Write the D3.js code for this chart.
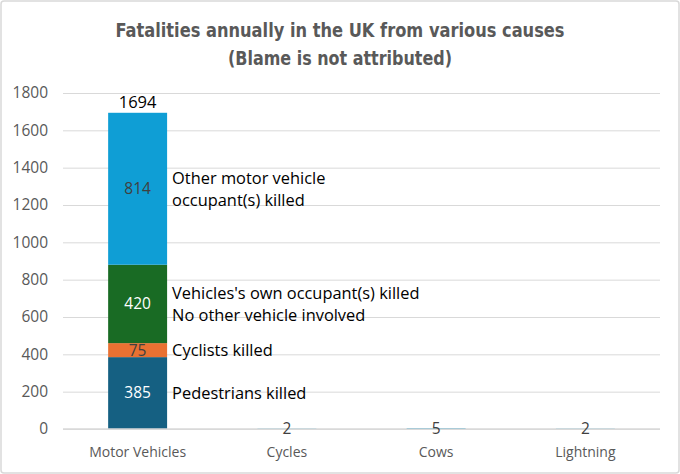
<!DOCTYPE html>
<html>
<head>
<meta charset="utf-8">
<script src="https://cdn.jsdelivr.net/npm/d3@7"></script>
<style>
  body { margin: 0; background: #fff; }
  svg { display: block; }
</style>
</head>
<body>
<div id="chart"></div>
<script>
// Data
const categories = ['Motor Vehicles', 'Cycles', 'Cows', 'Lightning'];
const pedestrians = [385, 0, 0, 0];
const cyclists = [75, 0, 0, 0];
const ownOccupants = [420, 0, 0, 0];
const otherOccupants = [814, 0, 0, 0];
const otherCauses = [0, 2, 5, 2];
const yTicks = [0, 200, 400, 600, 800, 1000, 1200, 1400, 1600, 1800];
const titleLines = ['Fatalities annually in the UK from various causes', '(Blame is not attributed)'];

const seriesKeys = ['pedestrians', 'cyclists', 'ownOccupants', 'otherOccupants', 'otherCauses'];
const seriesColors = {
  pedestrians: '#156082',
  cyclists: '#e97132',
  ownOccupants: '#196b24',
  otherOccupants: '#0f9ed5',
  otherCauses: '#0f9ed5'
};
const labelColors = {
  pedestrians: '#ffffff',
  cyclists: '#404040',
  ownOccupants: '#ffffff',
  otherOccupants: '#404040',
  otherCauses: '#404040'
};
const annotations = {
  pedestrians: ['Pedestrians killed'],
  cyclists: ['Cyclists killed'],
  ownOccupants: ["Vehicles's own occupant(s) killed", 'No other vehicle involved'],
  otherOccupants: ['Other motor vehicle', 'occupant(s) killed']
};

const table = categories.map((c, i) => ({
  category: c,
  pedestrians: pedestrians[i],
  cyclists: cyclists[i],
  ownOccupants: ownOccupants[i],
  otherOccupants: otherOccupants[i],
  otherCauses: otherCauses[i]
}));

const width = 680, height = 474;
const margin = { top: 93, right: 20, bottom: 45, left: 63 };
const font = '"Open Sans", sans-serif';

const svg = d3.select('#chart').append('svg')
  .attr('width', width)
  .attr('height', height);

// Chart border
svg.append('rect')
  .attr('x', 1).attr('y', 1)
  .attr('width', width - 2).attr('height', height - 2)
  .attr('rx', 3)
  .attr('fill', '#fff')
  .attr('stroke', '#d9d9d9')
  .attr('stroke-width', 1.5);

const x = d3.scaleBand()
  .domain(categories)
  .range([margin.left, width - margin.right])
  .paddingInner(0.605)
  .paddingOuter(0.3025);

const y = d3.scaleLinear()
  .domain([0, 1800])
  .range([height - margin.bottom, margin.top]);

// Title (narrow bold face squeezed to the reference width)
const titleWidths = [449, 224];
svg.append('g')
  .selectAll('text')
  .data(titleLines)
  .join('text')
  .attr('x', 340)
  .attr('y', (d, i) => 37 + i * 28)
  .attr('text-anchor', 'middle')
  .attr('font-family', '"DejaVu Sans Condensed", "DejaVu Sans", sans-serif')
  .attr('font-weight', 'bold')
  .attr('font-size', 20)
  .attr('fill', '#595959')
  .attr('textLength', (d, i) => titleWidths[i])
  .attr('lengthAdjust', 'spacingAndGlyphs')
  .text(d => d);

// Gridlines and y labels
const yAxis = d3.axisLeft(y)
  .tickValues(yTicks)
  .tickSize(-(width - margin.left - margin.right))
  .tickPadding(15)
  .tickFormat(d3.format('d'));

const gy = svg.append('g')
  .attr('transform', `translate(${margin.left},0)`)
  .call(yAxis);
gy.select('.domain').remove();
gy.selectAll('.tick line').attr('stroke', '#d9d9d9').attr('stroke-width', 1);
gy.selectAll('.tick text')
  .attr('font-family', font)
  .attr('font-size', 15.5)
  .attr('fill', '#595959');

// Stacked bars
const stacked = d3.stack().keys(seriesKeys)(table);

const layers = svg.append('g')
  .selectAll('g')
  .data(stacked)
  .join('g')
  .attr('fill', d => seriesColors[d.key]);

layers.selectAll('rect')
  .data(d => d)
  .join('rect')
  .attr('x', d => x(d.data.category))
  .attr('width', x.bandwidth())
  .attr('y', d => y(d[1]))
  .attr('height', d => y(d[0]) - y(d[1]));

// Horizontal axis line on top of the bar bases
svg.append('line')
  .attr('x1', margin.left).attr('x2', width - margin.right)
  .attr('y1', y(0)).attr('y2', y(0))
  .attr('stroke', '#d9d9d9')
  .attr('stroke-width', 1.5);

// Segment value labels
const segLabels = [];
stacked.forEach(layer => {
  layer.forEach(d => {
    const v = d[1] - d[0];
    if (v > 0) segLabels.push({ key: layer.key, cat: d.data.category, v, mid: (d[0] + d[1]) / 2 });
  });
});

svg.append('g')
  .selectAll('text')
  .data(segLabels)
  .join('text')
  .attr('x', d => x(d.cat) + x.bandwidth() / 2)
  .attr('y', d => y(d.mid))
  .attr('dy', '0.35em')
  .attr('text-anchor', 'middle')
  .attr('font-family', font)
  .attr('font-size', 15.5)
  .attr('fill', d => labelColors[d.key])
  .text(d => d.v);

// Total label for motor vehicles
const totals = table.map(d => ({
  category: d.category,
  total: d.pedestrians + d.cyclists + d.ownOccupants + d.otherOccupants
})).filter(d => d.total > 0);

svg.append('g')
  .selectAll('text')
  .data(totals)
  .join('text')
  .attr('x', d => x(d.category) + x.bandwidth() / 2)
  .attr('y', d => y(d.total) - 5)
  .attr('text-anchor', 'middle')
  .attr('font-family', font)
  .attr('font-size', 16.5)
  .attr('fill', '#000')
  .text(d => d.total);

// Annotations beside the first bar
const first = stacked.map(layer => ({ key: layer.key, mid: (layer[0][0] + layer[0][1]) / 2 }))
  .filter(d => annotations[d.key]);
const annX = x(categories[0]) + x.bandwidth() + 5;

const ann = svg.append('g')
  .selectAll('text')
  .data(first)
  .join('text')
  .attr('font-family', font)
  .attr('font-size', 16.4)
  .attr('fill', '#000');

ann.selectAll('tspan')
  .data(d => annotations[d.key].map((t, i, arr) => ({ t, i, n: arr.length, mid: d.mid })))
  .join('tspan')
  .attr('x', annX)
  .attr('y', d => y(d.mid) + (d.i - (d.n - 1) / 2) * 22)
  .attr('dy', '0.35em')
  .text(d => d.t);

// Category labels
svg.append('g')
  .selectAll('text')
  .data(categories)
  .join('text')
  .attr('x', d => x(d) + x.bandwidth() / 2)
  .attr('y', height - margin.bottom + 28)
  .attr('text-anchor', 'middle')
  .attr('font-family', font)
  .attr('font-size', 14)
  .attr('fill', '#595959')
  .text(d => d);
</script>
</body>
</html>
